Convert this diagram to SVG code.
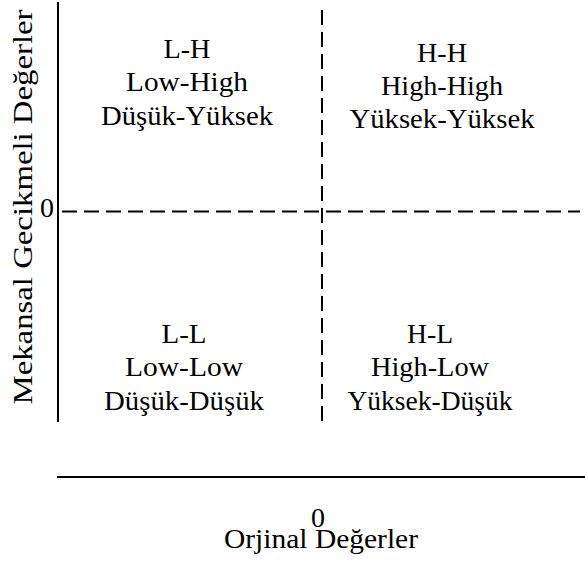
<svg xmlns="http://www.w3.org/2000/svg" width="585" height="563" viewBox="0 0 585 563">
<style>
text{font-family:'Liberation Serif',serif;fill:#000;text-anchor:middle}
.q{font-size:28px}
.ax{font-size:28px}
.solid{stroke:#000;stroke-width:2;fill:none}
.dash{stroke:#000;stroke-width:2;fill:none;stroke-dasharray:15 7}
</style>
<rect width="585" height="563" fill="#fff"/>
<g id="connectors">
<line class="solid" x1="58" y1="2" x2="58" y2="422"/>
<line class="solid" x1="57" y1="477" x2="585" y2="477"/>
<line class="dash" x1="62" y1="211.5" x2="580" y2="211.5"/>
<line class="dash" x1="322" y1="10" x2="322" y2="422"/>
</g>
<g id="LH">
<text class="q" x="187" y="58" textLength="47" lengthAdjust="spacingAndGlyphs">L-H</text>
<text class="q" x="187" y="91" textLength="122" lengthAdjust="spacingAndGlyphs">Low-High</text>
<text class="q" x="187" y="125" textLength="172" lengthAdjust="spacingAndGlyphs">Düşük-Yüksek</text>
</g>
<g id="HH">
<text class="q" x="442" y="62" textLength="50" lengthAdjust="spacingAndGlyphs">H-H</text>
<text class="q" x="442" y="95" textLength="122" lengthAdjust="spacingAndGlyphs">High-High</text>
<text class="q" x="442" y="128" textLength="185" lengthAdjust="spacingAndGlyphs">Yüksek-Yüksek</text>
</g>
<g id="LL">
<text class="q" x="184" y="343" textLength="45" lengthAdjust="spacingAndGlyphs">L-L</text>
<text class="q" x="184" y="376" textLength="118" lengthAdjust="spacingAndGlyphs">Low-Low</text>
<text class="q" x="184" y="410" textLength="160" lengthAdjust="spacingAndGlyphs">Düşük-Düşük</text>
</g>
<g id="HL">
<text class="q" x="430" y="343" textLength="46" lengthAdjust="spacingAndGlyphs">H-L</text>
<text class="q" x="430" y="376" textLength="118" lengthAdjust="spacingAndGlyphs">High-Low</text>
<text class="q" x="430" y="410" textLength="165" lengthAdjust="spacingAndGlyphs">Yüksek-Düşük</text>
</g>
<g id="yaxis">
<text class="ax" x="47" y="217">0</text>
<text class="ax" transform="translate(32,207) rotate(-90)" x="0" y="0" textLength="395" lengthAdjust="spacingAndGlyphs">Mekansal Gecikmeli Değerler</text>
</g>
<g id="xaxis">
<text class="ax" x="318" y="527">0</text>
<text class="ax" x="321" y="548" textLength="194" lengthAdjust="spacingAndGlyphs">Orjinal Değerler</text>
</g>
</svg>
